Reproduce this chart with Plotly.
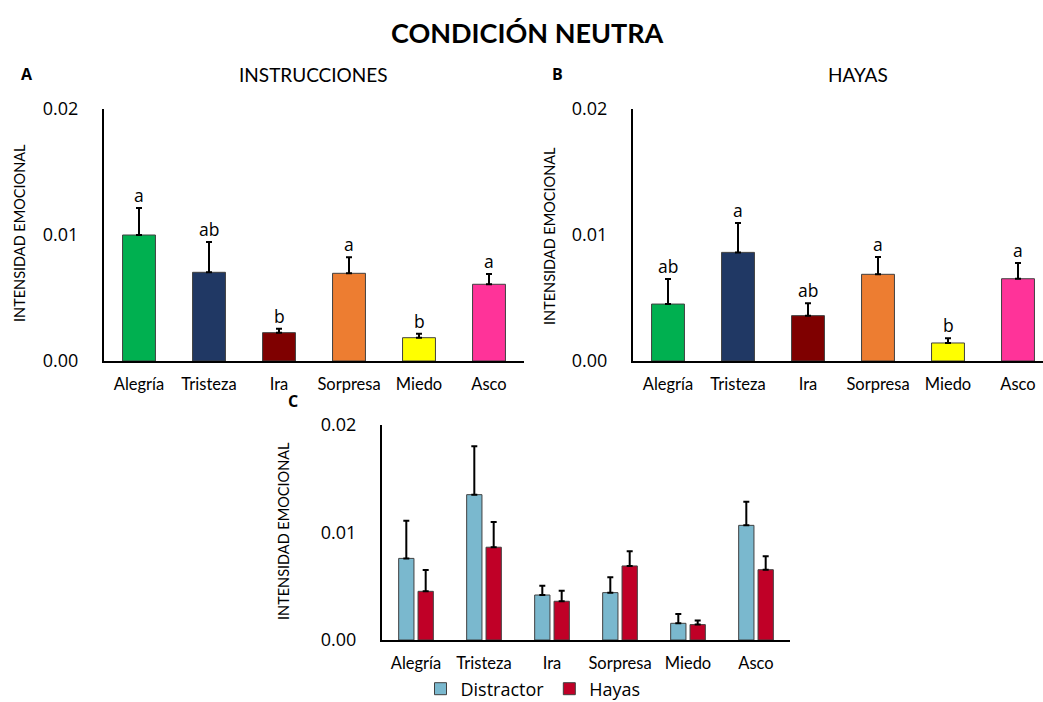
import plotly.graph_objects as go

W, H = 1043, 702

emociones = ["Alegría", "Tristeza", "Ira", "Sorpresa", "Miedo", "Asco"]
colores_emocion = ["#00B050", "#203864", "#7F0000", "#ED7D31", "#FFFF00", "#FF3399"]

# A: Instrucciones
instr_media = [0.0100, 0.00704, 0.00225, 0.00696, 0.00185, 0.00609]
instr_error = [0.00214, 0.00240, 0.00031, 0.00127, 0.00032, 0.00081]
instr_letras = ["a", "ab", "b", "a", "b", "a"]

# B: Hayas
hayas_media = [0.00452, 0.00862, 0.00360, 0.00688, 0.00143, 0.00653]
hayas_error = [0.00199, 0.00233, 0.00098, 0.00137, 0.00037, 0.00125]
hayas_letras = ["ab", "a", "ab", "a", "b", "a"]

# C: Distractor vs Hayas
distr_media = [0.00758, 0.01350, 0.00418, 0.00440, 0.00155, 0.01065]
distr_error = [0.00350, 0.00450, 0.00086, 0.00142, 0.00086, 0.00219]

y_tickvals = [0, 0.01, 0.02]
y_ticktext = ["0.00", "0.01", "0.02"]

FONT = "Open Sans"
TITLE_FONT = "Lato"


def px_x(p):
    return p / W


def px_y(p):
    return 1 - p / H


fig = go.Figure()

err_style = dict(type="data", symmetric=False, color="black", thickness=2, width=3)
outline = dict(color="#404040", width=1)

fig.add_trace(go.Bar(
    x=emociones, y=instr_media, marker=dict(color=colores_emocion, line=outline),
    width=0.47, xaxis="x", yaxis="y", showlegend=False,
    error_y=dict(array=instr_error, arrayminus=[0] * 6, **err_style),
))
fig.add_trace(go.Bar(
    x=emociones, y=hayas_media, marker=dict(color=colores_emocion, line=outline),
    width=0.47, xaxis="x2", yaxis="y2", showlegend=False,
    error_y=dict(array=hayas_error, arrayminus=[0] * 6, **err_style),
))
fig.add_trace(go.Bar(
    x=emociones, y=distr_media, name="Distractor",
    marker=dict(color="#7AB8CE", line=outline),
    width=0.225, offset=-0.255, xaxis="x3", yaxis="y3",
    error_y=dict(array=distr_error, arrayminus=[0] * 6, **err_style),
))
fig.add_trace(go.Bar(
    x=emociones, y=hayas_media, name="Hayas",
    marker=dict(color="#C00027", line=outline),
    width=0.225, offset=0.03, xaxis="x3", yaxis="y3",
    error_y=dict(array=hayas_error, arrayminus=[0] * 6, **err_style),
))

annotations = []
for axis_suffix, medias, errores, letras in [
    ("", instr_media, instr_error, instr_letras),
    ("2", hayas_media, hayas_error, hayas_letras),
]:
    for cat, m, e, l in zip(emociones, medias, errores, letras):
        annotations.append(dict(
            x=cat, y=m + e, xref="x" + axis_suffix, yref="y" + axis_suffix,
            text=l, showarrow=False, yanchor="bottom", yshift=-1,
            font=dict(family=FONT, size=17.5, color="black"),
        ))

# Titles, panel letters and axis titles
labels = [
    dict(x=px_x(527), y=px_y(32), text="<b>CONDICIÓN NEUTRA</b>",
         font=dict(family=TITLE_FONT, size=27, color="black")),
    dict(x=px_x(27), y=px_y(74), text="<b>A</b>", font=dict(family=FONT, size=16, color="black")),
    dict(x=px_x(557), y=px_y(74), text="<b>B</b>", font=dict(family=FONT, size=16, color="black")),
    dict(x=px_x(293), y=px_y(401), text="<b>C</b>", font=dict(family=FONT, size=16, color="black")),
    dict(x=px_x(313), y=px_y(75), text="INSTRUCCIONES", font=dict(family=TITLE_FONT, size=19, color="black")),
    dict(x=px_x(858), y=px_y(75), text="HAYAS", font=dict(family=TITLE_FONT, size=19, color="black")),
    dict(x=px_x(19), y=px_y(233), text="INTENSIDAD EMOCIONAL", textangle=-90,
         font=dict(family=TITLE_FONT, size=14.5, color="black")),
    dict(x=px_x(549), y=px_y(236), text="INTENSIDAD EMOCIONAL", textangle=-90,
         font=dict(family=TITLE_FONT, size=14.5, color="black")),
    dict(x=px_x(283), y=px_y(531), text="INTENSIDAD EMOCIONAL", textangle=-90,
         font=dict(family=TITLE_FONT, size=14.5, color="black")),
]
for a in labels:
    a.update(xref="paper", yref="paper", showarrow=False, xanchor="center", yanchor="middle")
annotations += labels

xcommon = dict(
    showline=True, linecolor="black", linewidth=2, ticks="", showgrid=False,
    tickfont=dict(family=TITLE_FONT, size=16.5, color="black"), ticklabelstandoff=7,
    fixedrange=True,
)
ycommon = dict(
    showline=True, linecolor="black", linewidth=2, ticks="", showgrid=False,
    zeroline=False, range=[0, 0.02], tickvals=y_tickvals, ticktext=y_ticktext,
    tickfont=dict(family=FONT, size=18, color="black"), ticklabelstandoff=20,
)

ydom_top = [px_y(361), px_y(109)]
ydom_bot = [px_y(640), px_y(424.7)]

fig.update_layout(
    width=W, height=H,
    margin=dict(l=0, r=0, t=0, b=0, autoexpand=False),
    paper_bgcolor="white", plot_bgcolor="white",
    barmode="overlay",
    xaxis=dict(domain=[px_x(104), px_x(524)], range=[-0.5, 5.5], anchor="y", **xcommon),
    yaxis=dict(domain=ydom_top, anchor="x", **ycommon),
    xaxis2=dict(domain=[px_x(633), 1.0], range=[-0.5, -0.5 + (W - 633) / 70], anchor="y2", **xcommon),
    yaxis2=dict(domain=ydom_top, anchor="x2", **ycommon),
    xaxis3=dict(domain=[px_x(382), px_x(790)], range=[-0.5, 5.5], anchor="y3", **xcommon),
    yaxis3=dict(domain=ydom_bot, anchor="x3", **ycommon),
    legend=dict(
        orientation="h", x=px_x(533), xanchor="center", y=px_y(689), yanchor="middle",
        font=dict(family=FONT, size=18, color="black"), bgcolor="rgba(0,0,0,0)",
        itemwidth=30, tracegroupgap=0,
    ),
    annotations=annotations,
    showlegend=True,
)

fig.write_html("out.html")
